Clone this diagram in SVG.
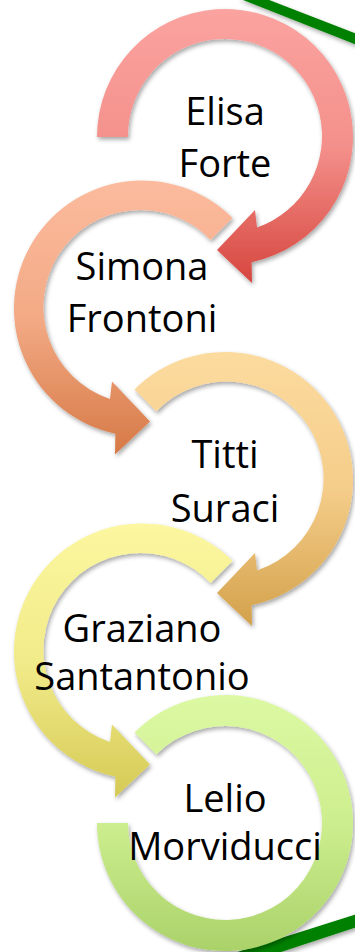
<svg xmlns="http://www.w3.org/2000/svg" width="355" height="952" viewBox="0 0 355 952">
<style>
.lbl{font-family:"Open Sans","Noto Sans","Liberation Sans",sans-serif;font-size:38px;fill:#000;text-anchor:middle}
.arr{filter:url(#sh)}
.deco{fill:#008000;filter:url(#sh)}
</style>
<defs>
<filter id="sh" x="-20%" y="-20%" width="140%" height="140%">
<feDropShadow dx="1.5" dy="2.5" stdDeviation="2" flood-color="#000" flood-opacity="0.35"/>
</filter>
<linearGradient id="g1" x1="0" y1="0" x2="0" y2="1"><stop offset="0" stop-color="#FBA3A0"/><stop offset="0.5" stop-color="#F4908B"/><stop offset="1" stop-color="#D6463E"/></linearGradient>
<linearGradient id="g2" x1="0" y1="0" x2="0" y2="1"><stop offset="0" stop-color="#FCBB9E"/><stop offset="0.5" stop-color="#F3AA85"/><stop offset="1" stop-color="#D67946"/></linearGradient>
<linearGradient id="g3" x1="0" y1="0" x2="0" y2="1"><stop offset="0" stop-color="#FCDB9F"/><stop offset="0.5" stop-color="#F5CD8A"/><stop offset="1" stop-color="#D3A14B"/></linearGradient>
<linearGradient id="g4" x1="0" y1="0" x2="0" y2="1"><stop offset="0" stop-color="#FCF7A0"/><stop offset="0.5" stop-color="#F2EB8A"/><stop offset="1" stop-color="#D5CA55"/></linearGradient>
<linearGradient id="g5" x1="0" y1="0" x2="0" y2="1"><stop offset="0" stop-color="#DCF9A3"/><stop offset="0.5" stop-color="#CDEE8E"/><stop offset="1" stop-color="#AAD26A"/></linearGradient>
</defs>
<rect width="355" height="952" fill="#fff"/>
<g id="decor">
<polygon class="deco" points="238,-2 264,-2 357,34 357,45"/>
<polygon class="deco" points="231,954 357,914 357,927 275,954"/>
</g>
<g id="connectors"/>
<g id="node1">
<path class="arr" fill="url(#g1)" transform="translate(225,137)" d="M-128,0 A128,128 0 1 1 26.6,125.2 L27,146 L-8,113 L30,73 L32,90.5 A97,97 0 1 0 -97,0 Z"/>
<text class="lbl" x="225" y="125">Elisa</text>
<text class="lbl" x="225" y="177">Forte</text>
</g>
<g id="node2">
<path class="arr" fill="url(#g2)" transform="translate(142,308.5)" d="M90.5,-90.5 A128,128 0 1 0 -26.6,125.2 L-27,146 L8,113 L-30,73 L-32,90.5 A97,97 0 1 1 68.6,-68.6 Z"/>
<text class="lbl" x="142" y="280">Simona</text>
<text class="lbl" x="142" y="332">Frontoni</text>
</g>
<g id="node3">
<path class="arr" fill="url(#g3)" transform="translate(225,480)" d="M-90.5,-90.5 A128,128 0 1 1 26.6,125.2 L27,146 L-8,113 L30,73 L32,90.5 A97,97 0 1 0 -68.6,-68.6 Z"/>
<text class="lbl" x="225" y="468">Titti</text>
<text class="lbl" x="225" y="522">Suraci</text>
</g>
<g id="node4">
<path class="arr" fill="url(#g4)" transform="translate(142,651.5)" d="M90.5,-90.5 A128,128 0 1 0 -26.6,125.2 L-27,146 L8,113 L-30,73 L-32,90.5 A97,97 0 1 1 68.6,-68.6 Z"/>
<text class="lbl" x="142" y="642">Graziano</text>
<text class="lbl" x="142" y="690">Santantonio</text>
</g>
<g id="node5">
<path class="arr" fill="url(#g5)" transform="translate(225,823)" d="M-90.5,-90.5 A128,128 0 1 1 -128,0 L-97,0 A97,97 0 1 0 -68.6,-68.6 Z"/>
<text class="lbl" x="225" y="812">Lelio</text>
<text class="lbl" x="225" y="860">Morviducci</text>
</g>
</svg>
